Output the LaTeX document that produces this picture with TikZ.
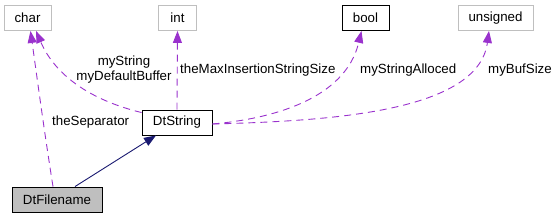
\documentclass[tikz,border=0pt]{standalone}
\usepackage{fontspec}
\setmainfont{Liberation Sans}
\usetikzlibrary{arrows.meta}
\definecolor{edgepurple}{HTML}{9A32CD}
\definecolor{edgenavy}{HTML}{191970}
\definecolor{boxgray}{HTML}{BFBFBF}
\begin{document}
\begin{tikzpicture}[x=1pt,y=-1pt,
  every node/.style={font=\fontsize{13.3}{15}\selectfont, inner sep=0pt},
  ghost/.style={draw=boxgray, line width=0.9pt, fill=white, minimum height=25pt},
  solidbox/.style={draw=black, line width=0.9pt, fill=white, minimum height=25pt},
  cur/.style={draw=black, line width=0.9pt, fill=boxgray, minimum height=25pt},
  usage/.style={draw=edgepurple, line width=0.9pt, dash pattern=on 7pt off 5pt, -{Triangle[length=12pt,width=9pt,fill=edgepurple]}},
  inherit/.style={draw=edgenavy, line width=0.9pt, -{Triangle[length=12pt,width=9pt,fill=edgenavy]}},
  lbl/.style={text=black}]
\useasboundingbox (0,0) rectangle (560,219);
\node[ghost, minimum width=47pt] (char) at (27.5,18) {char};
\node[ghost, minimum width=38pt] (int) at (177.5,18) {int};
\node[solidbox, minimum width=47pt] (bool) at (365.5,18) {bool};
\node[ghost, minimum width=75pt] (unsigned) at (495.5,18) {unsigned};
\node[solidbox, minimum width=70pt] (dtstring) at (177,122.5) {DtString};
\node[cur, minimum width=90pt] (dtfilename) at (57,199.5) {DtFilename};

\draw[inherit] ([xshift=18pt]dtfilename.north) -- ([xshift=-21pt]dtstring.south);
\draw[usage] ([xshift=-4pt]dtfilename.north) .. controls (44,130) and (36,70) .. ([xshift=3pt]char.south);
\draw[usage] ([yshift=-3pt]dtstring.north west) .. controls (90,100) and (55,75) .. ([xshift=8.5pt]char.south);
\draw[usage] (dtstring.north) -- (int.south);
\draw[usage] ([yshift=-1.5pt]dtstring.east) .. controls (270,119) and (345,100) .. ([xshift=-4pt]bool.south);
\draw[usage] ([yshift=-1.5pt]dtstring.east) .. controls (330,121) and (478,112) .. ([xshift=-6.5pt]unsigned.south);

\node[lbl, anchor=west] (lsep) at (52,122) {theSeparator};
\node[lbl, align=center] (lstr) at (124,70) {myString\\myDefaultBuffer};
\node[lbl, anchor=west] (lmax) at (180,70) {theMaxInsertionStringSize};
\node[lbl, anchor=west] (lalloc) at (360,70) {myStringAlloced};
\node[lbl, anchor=west] (lbuf) at (488,70) {myBufSize};
\end{tikzpicture}
\end{document}
